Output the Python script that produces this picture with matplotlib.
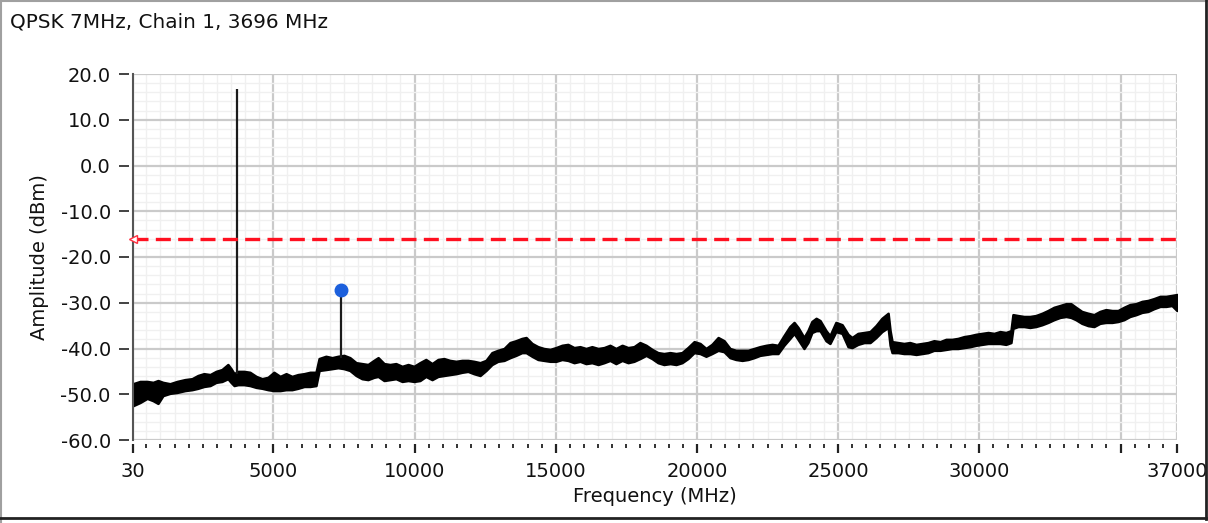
import matplotlib
matplotlib.use("Agg")
import matplotlib.pyplot as plt
from matplotlib.ticker import FixedLocator, MultipleLocator, FormatStrFormatter
from matplotlib.lines import Line2D

plt.rcParams['font.family'] = ['DejaVu Sans']
plt.rcParams['axes.unicode_minus'] = False

title = "QPSK 7MHz, Chain 1, 3696 MHz"
x_label = "Frequency (MHz)"
y_label = "Amplitude (dBm)"

# Noise-floor trace: frequency (MHz), upper and lower envelope (dBm)
freq = [30, 280, 530, 740, 915, 1090, 1340, 1590, 1870, 2120, 2330, 2540, 2760, 2970, 3180,
        3390, 3500, 3610, 3750, 3960, 4170, 4390, 4600, 4810, 5020, 5240, 5450, 5660, 5870,
        6090, 6300, 6510, 6620, 6860, 7080, 7290, 7500, 7710, 7930, 8140, 8350, 8560, 8710,
        8920, 9130, 9340, 9560, 9770, 9980, 10190, 10400, 10620, 10830, 11040, 11250, 11470,
        11680, 11890, 12100, 12320, 12530, 12740, 12950, 13170, 13380, 13590, 13800, 13950,
        14160, 14370, 14580, 14800, 15010, 15220, 15430, 15650, 15860, 16070, 16280, 16500,
        16710, 16920, 17130, 17350, 17560, 17770, 17980, 18200, 18410, 18620, 18830, 19050,
        19260, 19470, 19680, 19900, 20110, 20320, 20530, 20750, 20960, 21170, 21380, 21600,
        21810, 22020, 22230, 22450, 22660, 22870, 23080, 23290, 23440, 23580, 23790, 23930,
        24070, 24220, 24360, 24570, 24710, 24920, 25140, 25350, 25490, 25700, 25920, 26130,
        26340, 26550, 26770, 26840, 26910, 27120, 27330, 27540, 27760, 27970, 28180, 28390,
        28610, 28820, 29030, 29240, 29460, 29670, 29880, 30090, 30310, 30520, 30730, 30940,
        31120, 31190, 31370, 31580, 31790, 32000, 32220, 32430, 32640, 32860, 33070, 33240,
        33420, 33630, 33850, 34060, 34270, 34480, 34700, 34910, 35120, 35330, 35550, 35760,
        35970, 36180, 36400, 36610, 36820, 37000]

upper = [-47.7, -47.2, -47.2, -47.4, -47.0, -47.4, -47.7, -47.2, -46.8, -46.6, -45.9, -45.5, -45.7, -45.0, -44.6,
         -43.5, -44.4, -45.5, -45.0, -45.0, -45.2, -46.1, -46.6, -46.3, -45.2, -46.1, -45.5, -46.1, -45.7,
         -45.5, -45.2, -45.2, -42.2, -41.7, -42.0, -41.7, -41.5, -42.0, -43.1, -43.3, -43.5, -42.6, -42.0,
         -43.3, -43.5, -43.3, -43.9, -43.5, -43.9, -43.1, -42.4, -43.3, -42.4, -42.2, -42.6, -42.8,
         -42.6, -42.6, -42.8, -43.1, -42.6, -40.9, -40.4, -40.0, -38.7, -38.3, -37.8, -37.6,
         -38.9, -39.6, -40.0, -40.2, -39.8, -39.3, -39.1, -39.8, -39.6, -40.0, -39.6, -40.0,
         -39.8, -39.3, -40.0, -39.3, -39.8, -39.6, -38.7, -39.3, -40.2, -40.9, -41.1, -40.9,
         -41.1, -40.9, -39.8, -38.5, -38.9, -40.0, -39.1, -37.6, -38.3, -40.0, -40.4, -40.4,
         -40.4, -40.0, -39.6, -39.3, -39.1, -39.3, -37.2, -35.2, -34.3, -35.4, -37.6, -36.1,
         -34.1, -33.4, -33.9, -36.1, -37.2, -34.3, -34.8, -36.9, -37.6, -36.7, -36.5, -36.3,
         -35.0, -33.4, -32.3, -36.1, -38.5, -38.7, -38.9, -38.7, -39.1, -38.9, -38.7, -38.3,
         -38.5, -38.0, -38.0, -37.8, -37.4, -37.2, -36.9, -36.7, -36.5, -36.7, -36.3, -36.5,
         -36.1, -32.6, -32.8, -33.0, -33.0, -32.8, -32.3, -31.7, -31.0, -30.6, -30.2, -30.2,
         -31.0, -31.9, -32.3, -32.6, -31.9, -31.5, -31.7, -31.7, -31.0, -30.4, -30.2, -29.7,
         -29.5, -29.1, -28.6, -28.6, -28.4, -28.2]

lower = [-52.5, -51.8, -50.9, -51.4, -52.0, -50.3, -49.8, -49.6, -49.2, -49.0, -48.7, -48.3, -48.1, -47.4, -47.2,
         -46.6, -47.4, -48.1, -47.9, -47.9, -48.1, -48.5, -48.7, -49.0, -49.2, -49.2, -49.0, -49.0, -48.7,
         -48.3, -48.3, -48.1, -44.8, -44.6, -44.4, -44.2, -44.4, -44.8, -45.9, -46.6, -46.8, -46.3, -46.1,
         -47.0, -46.8, -46.6, -47.2, -47.0, -47.2, -47.0, -46.1, -46.8, -46.1, -45.9, -45.7, -45.5,
         -45.2, -45.0, -45.5, -45.9, -44.8, -43.5, -42.8, -42.6, -42.0, -41.5, -40.9, -40.9,
         -41.7, -42.4, -42.6, -42.8, -42.8, -42.4, -42.6, -43.1, -42.8, -43.3, -43.1, -43.5,
         -43.1, -42.6, -43.3, -42.6, -43.1, -42.8, -42.2, -41.5, -42.2, -43.1, -43.5, -43.3,
         -43.5, -43.1, -42.2, -40.9, -41.1, -41.7, -41.1, -40.4, -40.7, -42.0, -42.4, -42.6,
         -42.4, -42.0, -41.5, -41.3, -41.1, -41.1, -39.3, -37.8, -36.7, -38.0, -40.0, -38.7,
         -36.5, -36.1, -36.1, -38.3, -38.9, -36.3, -36.7, -39.6, -39.8, -39.1, -38.7, -38.7,
         -37.6, -36.3, -35.4, -39.3, -40.9, -40.9, -41.1, -41.1, -41.3, -41.1, -40.9, -40.4,
         -40.4, -40.2, -40.0, -40.0, -39.8, -39.6, -39.3, -39.1, -38.9, -38.9, -38.9, -39.1,
         -38.7, -35.6, -35.2, -35.2, -35.4, -35.2, -34.8, -34.3, -33.7, -33.2, -33.0, -33.2,
         -33.7, -34.5, -35.0, -35.2, -34.5, -34.3, -34.3, -34.1, -33.7, -33.0, -32.6, -32.1,
         -31.9, -31.3, -30.8, -30.8, -30.6, -31.7]

# Carrier and harmonic spikes
carrier_freq = 3696
carrier_base = -45.5
carrier_peak = 16.8
harmonic_freq = 7392
harmonic_base = -42.0
harmonic_peak = -27.3

limit_level = -16.0

x_major = [30, 5000, 10000, 15000, 20000, 25000, 30000, 35000, 37000]
x_major_labels = ["30", "5000", "10000", "15000", "20000", "25000", "30000", "", "37000"]
y_ticks = [20, 10, 0, -10, -20, -30, -40, -50, -60]

W, H = 1208, 523
fig = plt.figure(figsize=(W / 100, H / 100), dpi=100)
ax = fig.add_axes([133 / W, 1 - 440 / H, (1177 - 133) / W, (440 - 74) / H])

# grid
ax.set_axisbelow(True)
ax.xaxis.set_minor_locator(MultipleLocator(500))
ax.yaxis.set_minor_locator(MultipleLocator(2))
ax.grid(which='minor', color='#f0f0f0', linewidth=1.0)
ax.grid(which='major', color='#cacaca', linewidth=1.6)

# trace
ax.fill_between(freq, lower, upper, color='black', linewidth=1.8, edgecolor='black')
ax.vlines(carrier_freq, carrier_base, carrier_peak, color='#1a1a1a', linewidth=1.6)
ax.vlines(harmonic_freq, harmonic_base, harmonic_peak, color='#1a1a1a', linewidth=1.6)
ax.plot([harmonic_freq], [harmonic_peak], marker='o', markersize=9,
        color='#1b5fdc', markeredgecolor='#1b5fdc', zorder=5)

# limit line
ax.axhline(limit_level, color='#ff1020', linewidth=2.4, dashes=(4.5, 2.2), zorder=4)
ax.plot([30], [limit_level], marker='<', markersize=6, markerfacecolor='white',
        markeredgecolor='#ff3040', markeredgewidth=1.0, zorder=6, clip_on=False)

ax.set_xlim(30, 37000)
ax.set_ylim(-60, 20)

ax.xaxis.set_major_locator(FixedLocator(x_major))
ax.set_xticklabels(x_major_labels)
ax.set_yticks(y_ticks)
ax.yaxis.set_major_formatter(FormatStrFormatter('%.1f'))

for s in ['top', 'right', 'bottom', 'left']:
    ax.spines[s].set_visible(False)
ax.spines['left'].set_position(('outward', 3))
ax.spines['bottom'].set_position(('outward', 3))
# visible left axis line at the plot edge
ax.add_artist(Line2D([0, 0], [0, 1], transform=ax.transAxes, color='#555555',
                     linewidth=1.5, clip_on=False))

ax.tick_params(axis='x', which='major', direction='out', length=6.5, width=1.6,
               color='#222222', labelsize=14, pad=6, labelcolor='#111111')
ax.tick_params(axis='x', which='minor', direction='out', length=3, width=1.3,
               color='#222222')
ax.tick_params(axis='y', which='major', direction='out', length=7, width=1.2,
               color='#222222', labelsize=14, pad=6, labelcolor='#111111')
ax.tick_params(axis='y', which='minor', length=0)

ax.set_xlabel(x_label, fontsize=14, color='#111111', labelpad=5)
ax.set_ylabel(y_label, fontsize=14, color='#111111', labelpad=8)

fig.text(10 / W, 1 - 22 / H, title, fontsize=14.4, ha='left', va='center', color='#111111')

# window frame
fig.add_artist(Line2D([0, 1], [1 - 0.5 / H, 1 - 0.5 / H], color='#a0a0a0', linewidth=1.5))
fig.add_artist(Line2D([0.5 / W, 0.5 / W], [0, 1], color='#a0a0a0', linewidth=1.5))
fig.add_artist(Line2D([1206 / W, 1206 / W], [1 - 519 / H, 1], color='#222222', linewidth=2))
fig.add_artist(Line2D([0, 1206 / W], [1 - 518 / H, 1 - 518 / H], color='#222222', linewidth=2))

fig.savefig("out.png", dpi=100)
